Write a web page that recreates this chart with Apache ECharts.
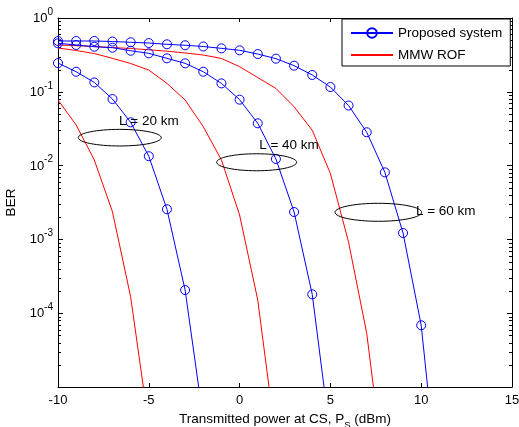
<!DOCTYPE html>
<html>
<head>
<meta charset="utf-8">
<script src="https://cdn.jsdelivr.net/npm/echarts@6/dist/echarts.min.js"></script>
<style>
  html, body { margin: 0; padding: 0; background: #fff; }
  #main { width: 519px; height: 427px; }
</style>
</head>
<body>
<div id="main"></div>
<script>
// BER vs transmitted power, three fibre lengths
// x values are integer dBm steps starting at -10
const powerDbm = [-10, -9, -8, -7, -6, -5, -4, -3, -2, -1, 0, 1, 2, 3, 4, 5, 6, 7, 8, 9, 10, 11]

// proposed system (blue, circles)
const proposed20 = [0.245, 0.187, 0.134, 0.0798, 0.0386, 0.0134, 0.00256, 2.06e-4, 3.6e-6]
const proposed40 = [0.454, 0.431, 0.408, 0.396, 0.360, 0.332, 0.284, 0.243, 0.187, 0.130, 0.0782, 0.0374, 0.0123, 0.00235, 1.80e-4, 2.1e-6]
const proposed60 = [0.488, 0.488, 0.488, 0.480, 0.469, 0.458, 0.440, 0.427, 0.411, 0.388, 0.365, 0.325, 0.281, 0.226, 0.169, 0.116, 0.0652, 0.0283, 0.0081, 0.00122, 6.86e-5, 3e-7]

// MMW ROF (red, no markers)
const rof20 = [0.0774, 0.0355, 0.0119, 0.00236, 1.67e-4, 3e-6]
const rof40 = [0.392, 0.363, 0.330, 0.284, 0.242, 0.197, 0.130, 0.0774, 0.0337, 0.0119, 0.00214, 1.51e-4, 1.9e-6]
const rof60 = [0.431, 0.421, 0.411, 0.398, 0.386, 0.371, 0.355, 0.336, 0.315, 0.283, 0.219, 0.156, 0.111, 0.0628, 0.0301, 0.00781, 9.2e-4, 5.34e-5, 5.8e-7]

// axis ticks
const xTicks = [-10, -5, 0, 5, 10, 15]
const yDecades = [-5, -4, -3, -2, -1, 0]

// annotations (ellipse centre + label position, in data units)
const annoText = ['L = 20 km', 'L = 40 km', 'L = 60 km']
const ellipseX = [-6.6, 0.94, 7.64]
const ellipseY = [0.0239, 0.0111, 0.00233]
const textX = [-6.64, 1.08, 9.71]
const textY = [0.0394, 0.019, 0.00243]

const FONT = 'Liberation Sans, Arial, sans-serif'
const xMin = xTicks[0]
const xMax = xTicks[xTicks.length - 1]
const yMin = Math.pow(10, yDecades[0])
const yMax = Math.pow(10, yDecades[yDecades.length - 1])

const pairs = (ys) => ys.map((y, i) => [powerDbm[i], y])

// minor ticks 2..9 in each decade (matlab style)
const minorVals = []
for (let d = yDecades[0]; d < yDecades[yDecades.length - 1]; d++) {
  for (let k = 2; k <= 9; k++) minorVals.push([xMin, k * Math.pow(10, d)])
}

const chart = echarts.init(document.getElementById('main'))

const blueSeries = (data) => ({
  name: 'Proposed system',
  type: 'line',
  data: pairs(data),
  symbol: 'circle',
  symbolSize: 9,
  clip: true,
  lineStyle: { color: '#0000ff', width: 1 },
  itemStyle: { color: 'rgba(0,0,0,0)', borderColor: '#0000ff', borderWidth: 1 },
  emphasis: { disabled: true },
  animation: false
})

const redSeries = (data) => ({
  name: 'MMW ROF',
  type: 'line',
  data: pairs(data),
  symbol: 'none',
  clip: true,
  lineStyle: { color: '#ff0000', width: 1 },
  itemStyle: { color: '#ff0000' },
  emphasis: { disabled: true },
  animation: false
})

const option = {
  animation: false,
  backgroundColor: '#fff',
  textStyle: { fontFamily: FONT },
  grid: { left: 58, right: 7, top: 18, bottom: 40, containLabel: false, outerBoundsMode: 'none' },
  legend: {
    data: [
      { name: 'Proposed system' },
      // no marker for the red entry, just the line
      { name: 'MMW ROF', itemStyle: { color: 'rgba(0,0,0,0)', borderColor: 'rgba(0,0,0,0)', borderWidth: 0 } }
    ],
    orient: 'vertical',
    left: 342,
    top: 19,
    padding: [7, 8, 4, 8],
    itemWidth: 42,
    itemHeight: 12,
    itemGap: 8,
    backgroundColor: '#fff',
    borderColor: '#000',
    borderWidth: 1,
    borderRadius: 0,
    selectedMode: false,
    textStyle: { fontFamily: FONT, fontSize: 13.5, color: '#000', padding: [0, 0, 0, 0] }
  },
  xAxis: [
    {
      type: 'value',
      min: xMin,
      max: xMax,
      interval: 5,
      position: 'bottom',
      name: '{a|Transmitted power at CS, P}{s|S}{a| (dBm)}',
      nameLocation: 'middle',
      nameGap: 22,
      nameTextStyle: {
        rich: {
          a: { fontFamily: FONT, fontSize: 13.5, color: '#000', lineHeight: 18, verticalAlign: 'top' },
          s: { fontFamily: FONT, fontSize: 9.5, color: '#000', lineHeight: 18, verticalAlign: 'bottom' }
        }
      },
      axisLine: { show: true, onZero: false, lineStyle: { color: '#000', width: 1 } },
      axisTick: { show: true, inside: true, length: 4, lineStyle: { color: '#000' } },
      axisLabel: { color: '#000', fontSize: 13, fontFamily: FONT, margin: 7, showMinLabel: true, showMaxLabel: true },
      splitLine: { show: false }
    },
    {
      type: 'value',
      min: xMin,
      max: xMax,
      interval: 5,
      position: 'top',
      axisLine: { show: true, onZero: false, lineStyle: { color: '#000', width: 1 } },
      axisTick: { show: true, inside: true, length: 4, lineStyle: { color: '#000' } },
      axisLabel: { show: false },
      splitLine: { show: false }
    }
  ],
  yAxis: [
    {
      type: 'log',
      logBase: 10,
      min: yMin,
      max: yMax,
      position: 'left',
      name: 'BER',
      nameLocation: 'middle',
      nameGap: 34,
      nameTextStyle: { fontFamily: FONT, fontSize: 13.5, color: '#000' },
      axisLine: { show: true, onZero: false, lineStyle: { color: '#000', width: 1 } },
      axisTick: { show: true, inside: true, length: 5, lineStyle: { color: '#000' } },
      axisLabel: {
        color: '#000',
        margin: 5,
        padding: [0, 0, 4, 0],
        formatter: (v) => {
          const e = Math.round(Math.log10(v))
          if (e === yDecades[0]) return ''
          return '{b|10}{p|' + e + '}'
        },
        rich: {
          b: { fontFamily: FONT, fontSize: 13, color: '#000', lineHeight: 18, verticalAlign: 'bottom' },
          p: { fontFamily: FONT, fontSize: 10, color: '#000', lineHeight: 18, verticalAlign: 'top' }
        }
      },
      splitLine: { show: false }
    },
    {
      type: 'log',
      logBase: 10,
      min: yMin,
      max: yMax,
      position: 'right',
      axisLine: { show: true, onZero: false, lineStyle: { color: '#000', width: 1 } },
      axisTick: { show: true, inside: true, length: 5, lineStyle: { color: '#000' } },
      axisLabel: { show: false },
      splitLine: { show: false }
    }
  ],
  series: [
    redSeries(rof20),
    redSeries(rof40),
    redSeries(rof60),
    blueSeries(proposed20),
    blueSeries(proposed40),
    blueSeries(proposed60),
    {
      // minor log ticks on left and right edges
      type: 'custom',
      name: 'minorTicks',
      data: minorVals,
      clip: false,
      silent: true,
      renderItem: (params, api) => {
        const v = api.value(1)
        const l = api.coord([xMin, v])
        const r = api.coord([xMax, v])
        const y = Math.round(l[1]) + 0.5
        return {
          type: 'group',
          children: [
            { type: 'line', shape: { x1: l[0], y1: y, x2: l[0] + 3, y2: y }, style: { stroke: '#000', lineWidth: 1 } },
            { type: 'line', shape: { x1: r[0] - 3, y1: y, x2: r[0], y2: y }, style: { stroke: '#000', lineWidth: 1 } }
          ]
        }
      }
    },
    {
      // ellipses + "L = .. km" labels
      type: 'custom',
      name: 'annotations',
      data: annoText.map((t, i) => [ellipseX[i], ellipseY[i], textX[i], textY[i], i]),
      clip: false,
      silent: true,
      z: 5,
      renderItem: (params, api) => {
        const i = api.value(4)
        const c = api.coord([api.value(0), api.value(1)])
        const t = api.coord([api.value(2), api.value(3)])
        const rx = [41.5, 40, 43.3][i]
        const ry = [8.3, 8.5, 9][i]
        return {
          type: 'group',
          children: [
            { type: 'ellipse', shape: { cx: c[0], cy: c[1], rx: rx, ry: ry }, style: { stroke: '#000', fill: null, lineWidth: 1 } },
            { type: 'text', x: t[0], y: t[1], style: { text: annoText[i], fill: '#000', fontSize: 13.5, fontFamily: FONT, align: 'left', verticalAlign: 'middle' } }
          ]
        }
      }
    }
  ]
}

chart.setOption(option)
</script>
</body>
</html>
